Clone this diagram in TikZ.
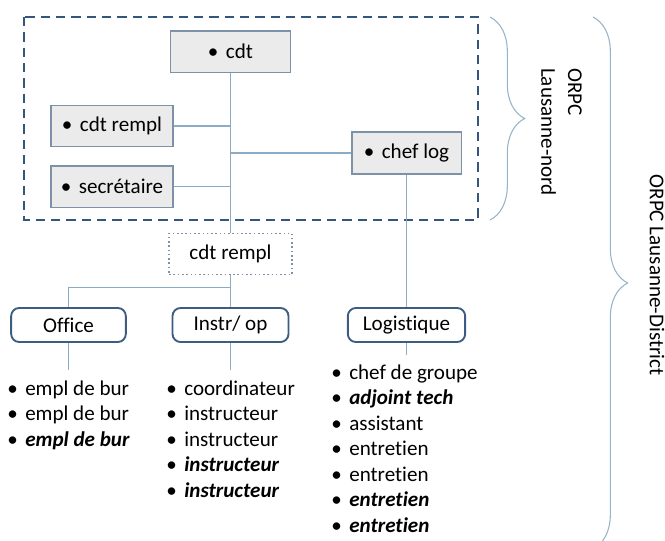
\documentclass[tikz,border=0pt]{standalone}
\usepackage{fontspec}
\setmainfont{Carlito}[Ligatures={NoCommon,NoRequired,NoContextual}]
\usetikzlibrary{decorations.pathreplacing}

\definecolor{boxline}{RGB}{125,145,168}
\definecolor{boxfill}{RGB}{235,235,235}
\definecolor{frameblue}{RGB}{52,85,125}
\definecolor{teamline}{RGB}{60,92,130}
\definecolor{linkblue}{RGB}{140,172,198}
\definecolor{bracegrey}{RGB}{150,180,200}

\newcommand{\itm}[1]{\makebox[13.5pt][l]{\textbullet}#1}
\newcommand{\bi}[1]{\textbf{\textit{#1}}}

\begin{document}
\begin{tikzpicture}[x=0.75pt,y=-0.75pt,font=\fontsize{15.8}{20}\selectfont,
  greybox/.style={draw=boxline, fill=boxfill, line width=1pt, minimum height=31pt, inner sep=0pt},
  teambox/.style={draw=teamline, fill=white, rounded corners=6pt, line width=1.4pt, minimum height=25.5pt, minimum width=87pt, inner sep=0pt},
  link/.style={draw=linkblue, line width=0.8pt},
  lbrace/.style={draw=bracegrey, line width=0.8pt, decorate, decoration={brace, amplitude=26pt}}]

\clip (0,0) rectangle (665,540);

\draw[frameblue, line width=1.6pt, dash pattern=on 7pt off 4.5pt] (24,17) rectangle (478,220);

\node[greybox, minimum width=90pt] (cdt) at (230.5,51.5) {\itm{cdt}};
\node[greybox, minimum width=91.5pt] (rempl) at (112,126) {\itm{cdt rempl}};
\node[greybox, minimum width=91.5pt] (secr) at (112,186.5) {\itm{secrétaire}};
\node[greybox, minimum width=82pt, minimum height=31.5pt] (chef) at (406.5,153) {\itm{chef log}};

\node[draw=boxline, dotted, line width=1.2pt, minimum width=92pt, minimum height=31pt, inner sep=0pt] (rempltwo) at (230.5,254) {cdt rempl};

\node[teambox, minimum width=86pt] (office) at (68.5,325) {Office};
\node[teambox] (instr) at (230.5,325) {Instr/ op};
\node[teambox, minimum width=88pt] (logi) at (406.5,325) {Logistique};

\draw[link] (cdt) -- (rempltwo);
\draw[link] (rempl) -- (rempl -| cdt);
\draw[link] (secr) -- (secr -| cdt);
\draw[link] (chef) -- (chef -| cdt);
\draw[link] (chef) -- (logi);
\draw[link] (rempltwo.south) -- ++(0,12) -| (office.north);
\draw[link] (rempltwo) -- (instr);

\coordinate (officeend) at (68.5,370);
\coordinate (instrend) at (230.5,370);
\coordinate (logiend) at (406.5,355);
\draw[link] (office) -- (officeend);
\draw[link] (instr) -- (instrend);
\draw[link] (logi) -- (logiend);

% lists
\foreach \t [count=\i from 0] in {empl de bur, empl de bur, \bi{empl de bur}}
  \node[anchor=base west, inner sep=0pt] (off\i) at (7,395+25.5*\i) {\itm{\t}};
\foreach \t [count=\i from 0] in {coordinateur, instructeur, instructeur, \bi{instructeur}, \bi{instructeur}}
  \node[anchor=base west, inner sep=0pt] (ins\i) at (166,395+25.5*\i) {\itm{\t}};
\foreach \t [count=\i from 0] in {chef de groupe, \bi{adjoint tech}, assistant, entretien, entretien, \bi{entretien}, \bi{entretien}}
  \node[anchor=base west, inner sep=0pt] (log\i) at (331,379+25.5*\i) {\itm{\t}};

% braces
\draw[lbrace] (490,17) -- (490,220);
\draw[lbrace] (593,17) -- (593,549);
\node[rotate=-90, align=left] (nord) at (561.5,132) {ORPC\\Lausanne-nord};
\node[rotate=-90] (district) at (657,275) {ORPC Lausanne-District};

\end{tikzpicture}
\end{document}
